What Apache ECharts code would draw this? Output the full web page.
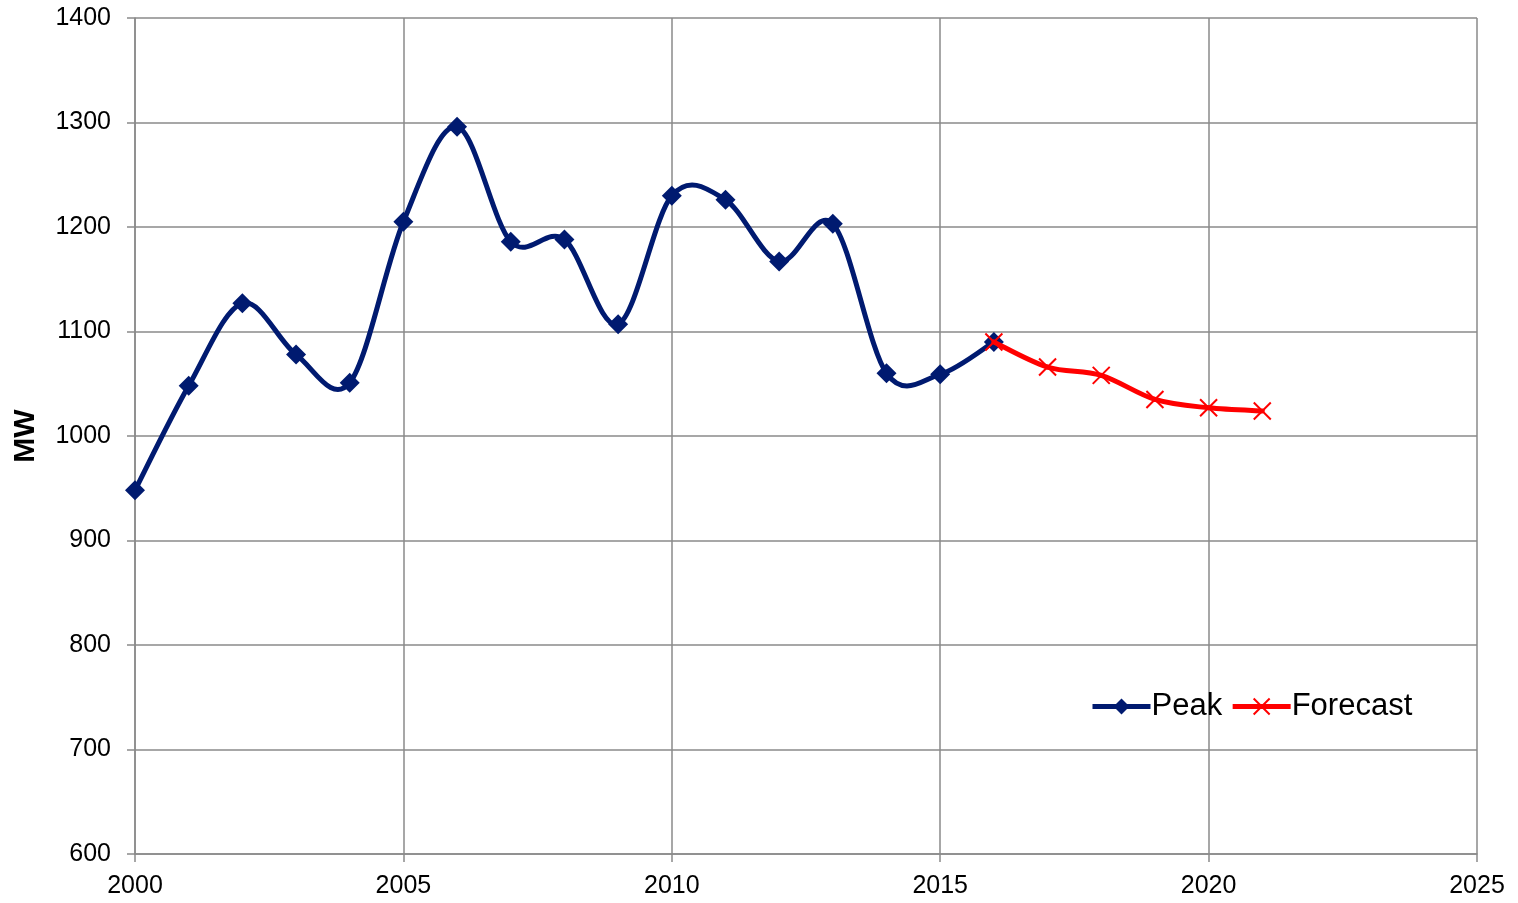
<!DOCTYPE html>
<html>
<head>
<meta charset="utf-8">
<script src="https://cdn.jsdelivr.net/npm/echarts@6/dist/echarts.min.js"></script>
<style>
  html, body { margin: 0; padding: 0; background: #fff; }
  #chart { width: 1518px; height: 903px; }
</style>
</head>
<body>
<div id="chart"></div>
<script>
// Annual peak demand (MW) and forecast
const peakYears = [2000, 2001, 2002, 2003, 2004, 2005, 2006, 2007, 2008, 2009, 2010, 2011, 2012, 2013, 2014, 2015, 2016];
const peakValues = [948, 1048, 1127, 1078, 1051, 1205, 1296, 1186, 1188, 1107, 1230, 1226, 1167, 1203, 1060, 1059, 1090];
const forecastYears = [2016, 2017, 2018, 2019, 2020, 2021];
const forecastValues = [1090, 1066, 1058, 1035, 1027, 1024];

const pairs = (xs, ys) => xs.map((x, i) => [x, ys[i]]);

const FONT = '"Liberation Sans", Arial, sans-serif';
const GRID_COLOR = '#8a8a8a';
const PEAK_COLOR = '#001a70';
const FORECAST_COLOR = '#ff0000';
const crossPath = 'path://M0,0L10,10M10,0L0,10';

// Catmull-Rom style smoothed segment between point i and i+1,
// positioned through the chart's own coordinate system.
function smoothSegment(xs, ys, color) {
  return function (params, api) {
    const i = params.dataIndex;
    const n = xs.length;
    if (i >= n - 1) return null;
    const p = k => api.coord([xs[Math.max(0, Math.min(n - 1, k))], ys[Math.max(0, Math.min(n - 1, k))]]);
    const p0 = p(i - 1), p1 = p(i), p2 = p(i + 1), p3 = p(i + 2);
    const t = 1 / 6;
    return {
      type: 'bezierCurve',
      shape: {
        x1: p1[0], y1: p1[1],
        x2: p2[0], y2: p2[1],
        cpx1: p1[0] + (p2[0] - p0[0]) * t,
        cpy1: p1[1] + (p2[1] - p0[1]) * t,
        cpx2: p2[0] - (p3[0] - p1[0]) * t,
        cpy2: p2[1] - (p3[1] - p1[1]) * t
      },
      style: { stroke: color, lineWidth: 5, fill: null, lineCap: 'round', lineJoin: 'round' }
    };
  };
}

const chart = echarts.init(document.getElementById('chart'), null, { renderer: 'canvas' });
chart.setOption({
  backgroundColor: '#ffffff',
  animation: false,
  grid: { left: 135, right: 41, top: 18, bottom: 49, containLabel: false },
  legend: {
    left: 1085,
    top: 686,
    itemWidth: 58,
    itemHeight: 20,
    itemGap: 8,
    textStyle: { fontFamily: FONT, fontSize: 31, color: '#000', padding: [0, 0, 0, -4] },
    data: [
      { name: 'Peak', lineStyle: { color: PEAK_COLOR, width: 5, opacity: 1 }, itemStyle: { color: PEAK_COLOR } },
      { name: 'Forecast', lineStyle: { color: FORECAST_COLOR, width: 5, opacity: 1 },
        itemStyle: { color: 'none', borderColor: FORECAST_COLOR, borderWidth: 2 } }
    ]
  },
  xAxis: {
    type: 'value',
    min: 2000,
    max: 2025,
    interval: 5,
    axisLine: { show: true, lineStyle: { color: GRID_COLOR, width: 1.5 } },
    axisTick: { show: true, length: 8, lineStyle: { color: GRID_COLOR, width: 1.5 } },
    axisLabel: { fontFamily: FONT, fontSize: 25, color: '#000', margin: 20, formatter: v => String(v) },
    splitLine: { show: true, lineStyle: { color: GRID_COLOR, width: 1.5 } }
  },
  yAxis: {
    type: 'value',
    min: 600,
    max: 1400,
    interval: 100,
    name: 'MW',
    nameLocation: 'middle',
    nameRotate: 90,
    nameGap: 94,
    nameTextStyle: { fontFamily: FONT, fontSize: 30, fontWeight: 'bold', color: '#000' },
    axisLine: { show: true, lineStyle: { color: GRID_COLOR, width: 1.5 } },
    axisTick: { show: true, length: 8, lineStyle: { color: GRID_COLOR, width: 1.5 } },
    axisLabel: { fontFamily: FONT, fontSize: 25, color: '#000', margin: 24, formatter: v => String(v) },
    splitLine: { show: true, lineStyle: { color: GRID_COLOR, width: 1.5 } }
  },
  series: [
    {
      name: 'Peak curve',
      type: 'custom',
      data: pairs(peakYears, peakValues),
      encode: { x: 0, y: 1 },
      renderItem: smoothSegment(peakYears, peakValues, PEAK_COLOR),
      silent: true,
      z: 2
    },
    {
      name: 'Forecast curve',
      type: 'custom',
      data: pairs(forecastYears, forecastValues),
      encode: { x: 0, y: 1 },
      renderItem: smoothSegment(forecastYears, forecastValues, FORECAST_COLOR),
      silent: true,
      z: 4
    },
    {
      name: 'Peak',
      type: 'line',
      data: pairs(peakYears, peakValues),
      symbol: 'diamond',
      symbolSize: 20,
      showAllSymbol: true,
      lineStyle: { color: PEAK_COLOR, width: 5, opacity: 0 },
      itemStyle: { color: PEAK_COLOR },
      z: 3
    },
    {
      name: 'Forecast',
      type: 'line',
      data: pairs(forecastYears, forecastValues),
      symbol: crossPath,
      symbolSize: 17,
      showAllSymbol: true,
      lineStyle: { color: FORECAST_COLOR, width: 5, opacity: 0 },
      itemStyle: { color: 'none', borderColor: FORECAST_COLOR, borderWidth: 2 },
      z: 5
    }
  ]
});
</script>
</body>
</html>
